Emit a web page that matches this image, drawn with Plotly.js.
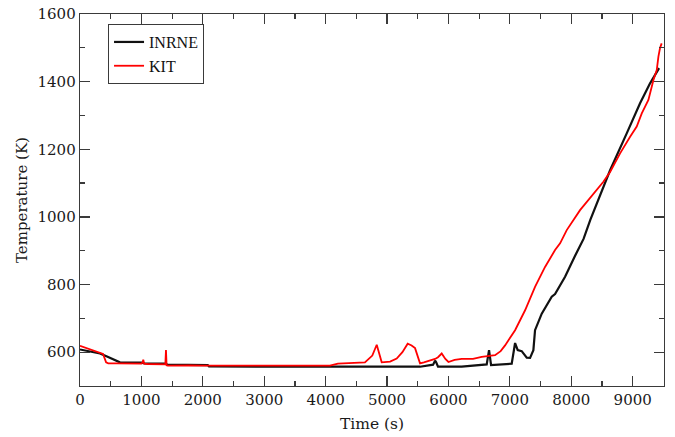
<!DOCTYPE html>
<html>
<head>
<meta charset="utf-8">
<script src="https://cdn.plot.ly/plotly-3.0.1.min.js"></script>
<style>
  html, body { margin: 0; padding: 0; background: #fff; }
  #chart { width: 675px; height: 437px; }
</style>
</head>
<body>
<div id="chart"></div>
<script>
// INRNE temperature history (time in s, temperature in K)
const inrneTime = [0, 100, 200, 326, 440, 550, 650, 1000, 1050, 1400, 1420, 2080, 2100, 3000, 4000, 5000, 5537, 5750, 5782, 5800, 5830, 6216, 6623, 6661, 6694, 7030, 7085, 7128, 7193, 7275, 7329, 7383, 7410, 7519, 7682, 7736, 7899, 8062, 8200, 8310, 8632, 8903, 9120, 9283, 9392, 9430];
const inrneTemp = [608, 605, 602, 596, 587, 577, 570, 569, 567, 566, 563, 562, 558, 557, 557, 557, 557, 563, 575, 570, 557, 557, 564, 606, 562, 566, 627, 606, 603, 584, 583, 606, 665, 714, 764, 772, 823, 885, 935, 991, 1138, 1247, 1336, 1395, 1429, 1440];

// KIT temperature history (time in s, temperature in K)
const kitTime = [0, 100, 200, 300, 375, 425, 460, 600, 1000, 1020, 1030, 1045, 1100, 1390, 1400, 1410, 1430, 1800, 2000, 3000, 4000, 4070, 4200, 4400, 4640, 4760, 4832, 4913, 5050, 5157, 5250, 5336, 5400, 5456, 5537, 5600, 5700, 5782, 5830, 5890, 5950, 6000, 6100, 6216, 6400, 6541, 6759, 6850, 6922, 7000, 7085, 7248, 7410, 7573, 7736, 7818, 7926, 8143, 8360, 8523, 8632, 8795, 8958, 9066, 9148, 9256, 9338, 9392, 9419, 9446, 9472];
const kitTemp = [619, 613, 607, 600, 595, 570, 567, 567, 566, 570, 578, 566, 565, 564, 606, 561, 560, 561, 560, 560, 560, 560, 566, 568, 570, 590, 622, 570, 572, 581, 600, 625, 620, 612, 567, 570, 575, 580, 585, 596, 580, 571, 577, 580, 580, 586, 591, 603, 620, 640, 665, 724, 793, 852, 902, 922, 961, 1020, 1070, 1104, 1133, 1188, 1237, 1267, 1306, 1346, 1405, 1434, 1474, 1500, 1513];

const serif = 'DejaVu Serif, serif';

const traces = [
  {
    x: inrneTime, y: inrneTemp, name: 'INRNE',
    type: 'scatter', mode: 'lines',
    line: { color: '#111111', width: 2.2 }
  },
  {
    x: kitTime, y: kitTemp, name: 'KIT',
    type: 'scatter', mode: 'lines',
    line: { color: '#ff0000', width: 1.8 }
  }
];

const axisCommon = {
  showgrid: false,
  zeroline: false,
  showline: true,
  linecolor: '#3a3a3a',
  linewidth: 1.3,
  mirror: 'allticks',
  ticks: 'inside',
  ticklen: 10,
  tickwidth: 1.2,
  tickcolor: '#3a3a3a',
  tickfont: { family: serif, size: 15, color: '#1a1a1a' }
};

const layout = {
  width: 675,
  height: 437,
  margin: { l: 80, r: 11, t: 14, b: 51 },
  paper_bgcolor: '#ffffff',
  plot_bgcolor: '#ffffff',
  showlegend: true,
  legend: {
    x: 0.048, y: 0.973, xanchor: 'left', yanchor: 'top',
    bgcolor: '#ffffff',
    bordercolor: '#3a3a3a',
    borderwidth: 1,
    font: { family: 'Liberation Serif, serif', size: 16, color: '#111' }
  },
  xaxis: Object.assign({}, axisCommon, {
    range: [0, 9510],
    tickvals: [0, 1000, 2000, 3000, 4000, 5000, 6000, 7000, 8000, 9000],
    minor: { dtick: 500, ticks: 'inside', ticklen: 5, tickcolor: '#3a3a3a', showgrid: false },
    title: { text: 'Time (s)', font: { family: serif, size: 15.5, color: '#1a1a1a' }, standoff: 10 }
  }),
  yaxis: Object.assign({}, axisCommon, {
    range: [500, 1600],
    tickvals: [600, 800, 1000, 1200, 1400, 1600],
    minor: { dtick: 100, ticks: 'inside', ticklen: 5, tickcolor: '#3a3a3a', showgrid: false },
    title: { text: 'Temperature (K)', font: { family: serif, size: 15, color: '#1a1a1a' }, standoff: 6 }
  })
};

Plotly.newPlot('chart', traces, layout, { displayModeBar: false, staticPlot: true });
</script>
</body>
</html>
